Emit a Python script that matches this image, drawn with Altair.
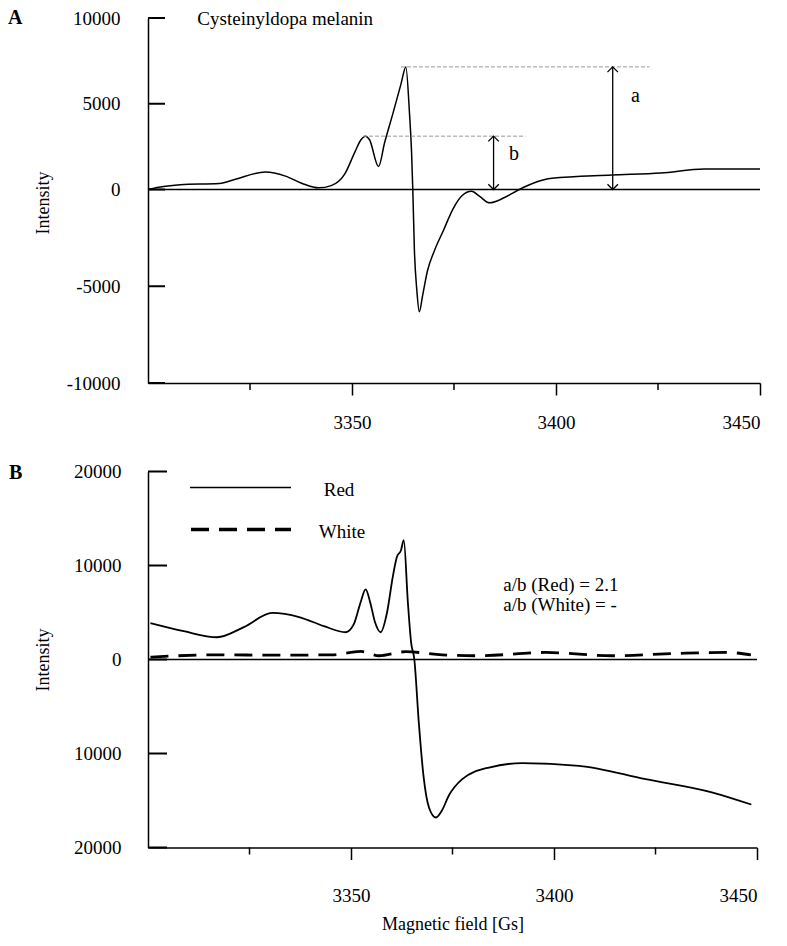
import altair as alt
import pandas as pd

FONT = "Liberation Serif"

# ---------------- Panel A: Cysteinyldopa melanin ----------------
a_field = [3300, 3303.8, 3307.9, 3317.5, 3321.4, 3328.8, 3333.7, 3337.8, 3341.8, 3344.9,
           3348.2, 3350.7, 3352.2, 3353.3, 3354.3, 3356.5, 3358.0, 3360.0, 3362.0, 3363.2,
           3364.1, 3364.6, 3364.9, 3365.3, 3365.9, 3366.5, 3367.3, 3368.5, 3370.2, 3372.4,
           3374.8, 3377.0, 3379.3, 3381.3, 3383.7, 3387.4, 3391.0, 3394.7, 3399.0, 3413.6,
           3425.7, 3436.3, 3450]
a_int = [0, 170, 280, 350, 600, 1020, 780, 350, 95, 225,
         895, 2180, 2900, 3110, 2900, 1340, 2740, 4410, 6145, 7150,
         4410, 2180, 0, -3160, -5230, -6320, -5490, -4200, -3160, -2120,
         -985, -310, -90, -360, -690, -415, 0, 390, 650, 840,
         965, 1190, 1190]

# guide levels a and b
guide_x1 = [3362.0, 3352.7]
guide_x2 = [3422.9, 3392.5]
guide_y = [7150, 3110]
arrow_x = [3413.9, 3384.7]
arrow_top = [7150, 3110]
arrow_labels = ["a", "b"]
arrow_label_x = [3419.5, 3389.7]
arrow_label_y = [5440, 2085]

# ---------------- Panel B: Red / White ----------------
red_field = [3300.6, 3308.8, 3317.0, 3323.6, 3330.6, 3337.2, 3343.3, 3348.7, 3350.7, 3352.4,
             3353.6, 3354.7, 3355.9, 3357.3, 3358.9, 3360.3, 3361.3, 3362.3, 3363.0, 3364.0,
             3364.8, 3365.6, 3366.7, 3367.9, 3369.2, 3370.9, 3372.4, 3374.1, 3377.4, 3384.0,
             3392.2, 3406.2, 3422.6, 3439.1, 3448.6]
red_int = [3870, 3010, 2365, 3440, 4950, 4520, 3550, 2900, 3760, 6130,
           7450, 6130, 3980, 2900, 5050, 8820, 10900, 11600, 12700, 6130,
           1830, 0, -6700, -12550, -15740, -16810, -16060, -14470, -12730, -11490,
           -11030, -11310, -12730, -14150, -15430]

white_field = [3300.6, 3316.6, 3332.2, 3345.3, 3352.4, 3356.9, 3363.5, 3372.5, 3381.5,
               3398.0, 3414.4, 3430.8, 3442.4, 3448.5]
white_int = [250, 500, 460, 500, 860, 400, 830, 500, 400, 750, 400, 650, 750, 500]

ratio_text = ["a/b (Red) = 2.1", "a/b (White) = -"]
ratio_x = [3387.5, 3387.5]
ratio_y = [7960, 5810]

a_yticks = [10000, 5000, 0, -5000, -10000]
b_yticks = [20000, 10000, 0, -10000, -20000]
x_major = [3350, 3400, 3450]
x_minor = [3325, 3375, 3425]

WA, HA = 612, 365
WB, HB = 609, 376
ZERO_A = 171.5

one = pd.DataFrame({"k": [0]})

# ---------- Panel A ----------
xA_scale = alt.Scale(domain=[3300, 3450], nice=False, zero=False)
yA_scale = alt.Scale(domain=[-10000, 0, 10000], range=[HA, ZERO_A, 0], nice=False, zero=False)

dfA = pd.DataFrame({"field": a_field, "intensity": a_int})

xA = alt.X("field:Q", scale=xA_scale,
           axis=alt.Axis(values=x_major, format="d", tickSize=12, tickWidth=1.5,
                         labelPadding=18, title=None, grid=False, domainWidth=1.5))
yA = alt.Y("intensity:Q", scale=yA_scale,
           axis=alt.Axis(values=a_yticks, ticks=False, tickSize=0, labelPadding=28,
                         labelExpr="'' + datum.value", title="Intensity",
                         titleX=-100, titleY=HA / 2 + 2, titleAngle=-90,
                         titleBaseline="alphabetic", titleAlign="center",
                         grid=False, domainWidth=1.5))

curveA = alt.Chart(dfA).mark_line(interpolate="monotone", color="black", strokeWidth=1.5).encode(
    x=xA, y=yA)

baseA = alt.Chart(pd.DataFrame({"intensity": [0]})).mark_rule(color="black", strokeWidth=1.5).encode(
    y=alt.Y("intensity:Q"))

ytickA = alt.Chart(pd.DataFrame({"intensity": a_yticks})).mark_rule(color="black", strokeWidth=2).encode(
    y=alt.Y("intensity:Q"), x=alt.value(0), x2=alt.value(17))

xminorA = alt.Chart(pd.DataFrame({"field": x_minor})).mark_rule(color="black", strokeWidth=1.5).encode(
    x=alt.X("field:Q"), y=alt.value(HA), y2=alt.value(HA + 7))

guides = alt.Chart(pd.DataFrame({"field": guide_x1, "x2": guide_x2, "intensity": guide_y})).mark_rule(
    color="#999999", strokeWidth=1, strokeDash=[4, 2]).encode(
    x=alt.X("field:Q"), x2="x2:Q", y=alt.Y("intensity:Q"))

dfArrow = pd.DataFrame({"field": arrow_x, "y0": [0, 0], "intensity": arrow_top})
arrows = alt.Chart(dfArrow).mark_rule(color="black", strokeWidth=1.3).encode(
    x=alt.X("field:Q"), y=alt.Y("intensity:Q"), y2="y0:Q")
heads_up = alt.Chart(dfArrow).mark_point(shape="M-1,1L0,0L1,1", size=110, filled=False, color="black",
                                          strokeWidth=1.3, opacity=1).encode(
    x=alt.X("field:Q"), y=alt.Y("intensity:Q"))
heads_down = alt.Chart(dfArrow).mark_point(shape="M-1,-1L0,0L1,-1", size=110, filled=False, color="black",
                                            strokeWidth=1.3, opacity=1).encode(
    x=alt.X("field:Q"), y=alt.Y("y0:Q"))

arrow_text = alt.Chart(pd.DataFrame({"field": arrow_label_x, "intensity": arrow_label_y,
                                     "t": arrow_labels})).mark_text(
    font=FONT, fontSize=20, color="black", align="center", baseline="middle").encode(
    x=alt.X("field:Q"), y=alt.Y("intensity:Q"), text="t:N")

titleA = alt.Chart(pd.DataFrame({"field": [3312.1], "intensity": [9944],
                                 "t": ["Cysteinyldopa melanin"]})).mark_text(
    font=FONT, fontSize=19, color="black", align="left", baseline="middle").encode(
    x=alt.X("field:Q"), y=alt.Y("intensity:Q"), text="t:N")

labelA = alt.Chart(one).mark_text(text="A", font=FONT, fontSize=20, fontWeight="bold", color="black",
                                  align="left", baseline="middle").encode(x=alt.value(-140), y=alt.value(0))

panelA = alt.layer(curveA, baseA, ytickA, xminorA, guides, arrows, heads_up, heads_down,
                   arrow_text, titleA, labelA).properties(width=WA, height=HA)

# ---------- Panel B ----------
xB_scale = alt.Scale(domain=[3300, 3450], nice=False, zero=False)
yB_scale = alt.Scale(domain=[-20000, 20000], nice=False, zero=False)

dfRed = pd.DataFrame({"field": red_field, "intensity": red_int})
dfWhite = pd.DataFrame({"field": white_field, "intensity": white_int})

xB = alt.X("field:Q", scale=xB_scale,
           axis=alt.Axis(values=x_major, format="d", tickSize=12, tickWidth=1.5,
                         labelPadding=27, title="Magnetic field [Gs]", titleY=68,
                         titleBaseline="top", grid=False, domainWidth=1.5))
yB = alt.Y("intensity:Q", scale=yB_scale,
           axis=alt.Axis(values=b_yticks, ticks=False, tickSize=0, labelPadding=27,
                         labelExpr="'' + abs(datum.value)", title="Intensity",
                         titleX=-100, titleY=HB / 2, titleAngle=-90,
                         titleBaseline="alphabetic", titleAlign="center",
                         grid=False, domainWidth=1.5))

curveRed = alt.Chart(dfRed).mark_line(interpolate="monotone", color="black", strokeWidth=1.8).encode(
    x=xB, y=yB)

curveWhite = alt.Chart(dfWhite).mark_line(interpolate="monotone", color="black", strokeWidth=2.8,
                                          strokeDash=[18, 10]).encode(
    x=alt.X("field:Q"), y=alt.Y("intensity:Q"))

baseB = alt.Chart(pd.DataFrame({"intensity": [0]})).mark_rule(color="black", strokeWidth=1.5).encode(
    y=alt.Y("intensity:Q"))

ytickB = alt.Chart(pd.DataFrame({"intensity": b_yticks})).mark_rule(color="black", strokeWidth=2).encode(
    y=alt.Y("intensity:Q"), x=alt.value(0), x2=alt.value(19))

xminorB = alt.Chart(pd.DataFrame({"field": x_minor})).mark_rule(color="black", strokeWidth=1.5).encode(
    x=alt.X("field:Q"), y=alt.value(HB), y2=alt.value(HB + 7))

legRedLine = alt.Chart(one).mark_rule(color="black", strokeWidth=1.5).encode(
    x=alt.value(42), x2=alt.value(143), y=alt.value(16))
legWhiteLine = alt.Chart(one).mark_rule(color="black", strokeWidth=3.5, strokeDash=[18, 10]).encode(
    x=alt.value(43), x2=alt.value(143), y=alt.value(58))
legRedText = alt.Chart(one).mark_text(text="Red", font=FONT, fontSize=19, color="black",
                                      align="center", baseline="middle").encode(
    x=alt.value(191), y=alt.value(18))
legWhiteText = alt.Chart(one).mark_text(text="White", font=FONT, fontSize=19, color="black",
                                        align="center", baseline="middle").encode(
    x=alt.value(194), y=alt.value(60))

ratio = alt.Chart(pd.DataFrame({"field": ratio_x, "intensity": ratio_y, "t": ratio_text})).mark_text(
    font=FONT, fontSize=19, color="black", align="left", baseline="middle").encode(
    x=alt.X("field:Q"), y=alt.Y("intensity:Q"), text="t:N")

labelB = alt.Chart(one).mark_text(text="B", font=FONT, fontSize=20, fontWeight="bold", color="black",
                                  align="left", baseline="middle").encode(x=alt.value(-139), y=alt.value(1.5))

panelB = alt.layer(curveRed, curveWhite, baseB, ytickB, xminorB, legRedLine, legWhiteLine,
                   legRedText, legWhiteText, ratio, labelB).properties(width=WB, height=HB)

chart = alt.vconcat(panelA, panelB, spacing=88.5, bounds="flush").properties(
    padding=0
).configure_view(stroke=None).configure_axis(
    labelFont=FONT, titleFont=FONT, labelFontSize=19, titleFontSize=18,
    labelColor="black", titleColor="black", domainColor="black", tickColor="black",
    titleFontWeight="normal", grid=False
).configure_text(font=FONT)

chart.save("out.html", embed_options={"renderer": "svg", "actions": False})
